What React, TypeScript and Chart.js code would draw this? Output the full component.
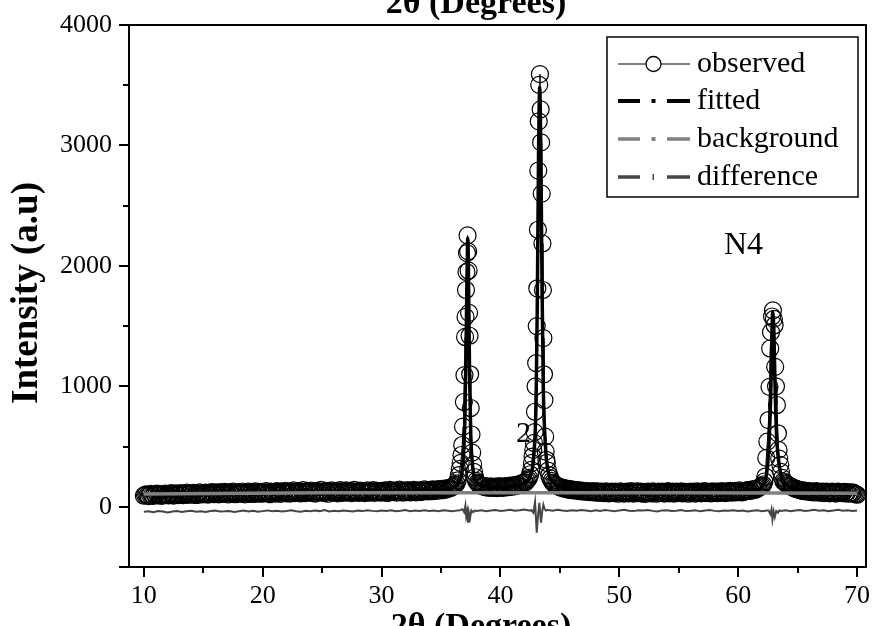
import React, { useEffect, useRef } from "react";
import { Chart, registerables } from "chart.js";

Chart.register(...registerables);

// ---- axes ----
const X_MIN = 8.75;
const X_MAX = 70.75;
const Y_MIN = -500;
const Y_MAX = 4000;
const xTicks = [10, 20, 30, 40, 50, 60, 70];
const xMinorTicks = [15, 25, 35, 45, 55, 65];
const yTicks = [-500, 0, 1000, 2000, 3000, 4000];
const yMinorTicks = [500, 1500, 2500, 3500];

const topTitle = "2θ (Degrees)";
const bottomTitle = "2θ (Degrees)";
const yTitle = "Intensity (a.u)";
const sampleLabel = "N4";
const peakLabel = "2";
const legendLabels = ["observed", "fitted", "background", "difference"];

// ---- observed (baseline segments: start, step 0.1) ----
const OBS_STEP = 0.1;
const obsA_start = 10.0;
const obsA = [
  92, 99, 104, 96, 88, 101, 107, 95, 90, 103,
  98, 109, 94, 100, 106, 91, 97, 104, 110, 96,
  102, 95, 108, 113, 99, 93, 105, 111, 100, 97,
  107, 114, 101, 96, 110, 104, 117, 99, 106, 112,
  100, 108, 115, 103, 98, 111, 106, 119, 102, 109,
  113, 104, 118, 110, 101, 116, 107, 122, 112, 105,
  119, 108, 114, 103, 121, 111, 106, 117, 124, 109,
  115, 102, 120, 112, 107, 125, 113, 104, 118, 110,
  122, 114, 108, 127, 116, 103, 119, 112, 125, 107,
  117, 123, 110, 106, 128, 115, 120, 109, 124, 113,
  108, 121, 116, 130, 112, 118, 105, 126, 119, 114,
  124, 110, 131, 117, 122, 107, 128, 115, 120, 133,
  112, 125, 118, 109, 129, 121, 136, 114, 123, 116,
  130, 119, 111, 127, 138, 120, 113, 125, 132, 117,
  122, 135, 116, 128, 110, 124, 131, 118, 126, 140,
  119, 127, 114, 133, 121, 108, 129, 123, 136, 117,
  125, 131, 120, 112, 128, 139, 122, 115, 130, 124,
  137, 118, 126, 132, 121, 114, 129, 141, 123, 119,
  128, 116, 134, 125, 120, 131, 113, 127, 136, 122,
  118, 130, 124, 139, 115, 126, 133, 121, 129, 117,
  132, 125, 119, 137, 128, 114, 130, 140, 123, 127,
  121, 134, 126, 117, 131, 143, 124, 129, 118, 135,
  127, 122, 138, 130, 119, 133, 125, 141, 128, 120,
  134, 129, 123, 139, 131, 126, 144, 132, 137, 128,
  133, 140, 129, 145, 136, 131, 142, 138, 147, 135,
  141, 149, 138, 146, 153, 144, 151, 158, 155, 163,
  168, 174, 182,
];
const peak1X = [36.3, 36.4, 36.5, 36.58, 36.65, 36.72, 36.78, 36.85, 36.92, 36.97, 37.02, 37.06, 37.1, 37.14, 37.18, 37.23, 37.28, 37.32, 37.36, 37.4, 37.45, 37.5, 37.56, 37.62, 37.7, 37.78, 37.86, 37.95, 38.05, 38.12];
const peak1Y = [195, 220, 262, 315, 364, 430, 513, 665, 870, 1093, 1410, 1576, 1800, 1949, 2106, 2253, 2120, 1960, 1610, 1420, 1100, 820, 600, 450, 350, 290, 245, 215, 200, 192];
const obsB_start = 38.2;
const obsB = [
  186, 179, 174, 170, 165, 172, 161, 167, 158, 163,
  170, 156, 164, 160, 168, 155, 162, 171, 159, 166,
  157, 165, 172, 161, 169, 163, 175, 166, 171, 178,
  170, 182, 176, 185, 180, 192, 188, 197, 205, 201,
  215, 226, 240,
];
const peak2X = [42.5, 42.58, 42.65, 42.7, 42.76, 42.82, 42.87, 42.9, 42.95, 43.0, 43.05, 43.1, 43.15, 43.18, 43.22, 43.26, 43.32, 43.38, 43.42, 43.47, 43.53, 43.57, 43.61, 43.66, 43.7, 43.76, 43.8, 43.86, 43.9, 44.0, 44.1, 44.2, 44.3, 44.4, 44.5];
const peak2Y = [270, 306, 364, 417, 472, 530, 620, 789, 1000, 1193, 1500, 1814, 2300, 2791, 3200, 3503, 3592, 3300, 3025, 2600, 2186, 1800, 1400, 1100, 886, 582, 458, 390, 364, 300, 262, 235, 215, 200, 190];
const obsC_start = 44.6;
const obsC = [
  182, 177, 171, 168, 163, 158, 160, 154, 150, 152,
  147, 143, 146, 140, 144, 137, 141, 135, 138, 133,
  136, 130, 134, 128, 132, 126, 131, 124, 129, 122,
  127, 121, 130, 119, 125, 117, 128, 122, 115, 126,
  120, 113, 124, 129, 118, 111, 123, 116, 127, 119,
  114, 125, 121, 108, 119, 128, 115, 122, 110, 124,
  118, 126, 112, 120, 131, 116, 109, 123, 117, 128,
  113, 121, 127, 110, 118, 124, 107, 119, 126, 115,
  122, 111, 129, 117, 123, 108, 120, 126, 114, 119,
  127, 116, 110, 124, 118, 130, 112, 121, 115, 125,
  109, 120, 126, 114, 122, 117, 128, 111, 119, 124,
  116, 123, 108, 121, 127, 113, 118, 125, 110, 122,
  128, 115, 120, 112, 126, 119, 131, 114, 122, 117,
  124, 111, 129, 118, 121, 127, 113, 125, 120, 116,
  130, 119, 123, 114, 128, 121, 117, 132, 124, 118,
  126, 133, 120, 129, 122, 136, 125, 119, 131, 127,
  135, 128, 138, 131, 141, 134, 144, 139, 147, 142,
  151, 156, 161, 168, 176,
];
const peak3X = [62.1, 62.2, 62.28, 62.36, 62.45, 62.55, 62.63, 62.69, 62.76, 62.85, 62.92, 63.0, 63.06, 63.11, 63.18, 63.26, 63.34, 63.39, 63.45, 63.54, 63.6, 63.7];
const peak3Y = [185, 210, 250, 406, 541, 720, 996, 1314, 1450, 1580, 1631, 1560, 1507, 1162, 1000, 845, 610, 472, 400, 348, 290, 240];
const obsD_start = 63.8;
const obsD = [
  212, 203, 195, 188, 181, 176, 170, 165, 160, 156,
  151, 148, 144, 141, 138, 135, 132, 136, 129, 133,
  127, 130, 124, 128, 121, 126, 119, 125, 130, 122,
  117, 124, 120, 127, 114, 121, 126, 118, 123, 112,
  119, 125, 116, 122, 110, 120, 126, 115, 121, 113,
  118, 124, 111, 117, 122, 108, 115, 120, 112, 117,
  109, 104, 100,
];

// ---- fitted ----
const fitX = [10, 15, 20, 25, 30, 33, 35, 36, 36.5, 36.8, 37.0, 37.1, 37.2, 37.25, 37.3, 37.4, 37.5, 37.7, 38, 39, 40, 41, 42, 42.5, 42.8, 43.0, 43.1, 43.2, 43.3, 43.4, 43.5, 43.6, 43.8, 44.0, 44.5, 45, 46, 48, 50, 55, 60, 61.5, 62.2, 62.5, 62.7, 62.8, 62.9, 63.0, 63.1, 63.2, 63.4, 63.7, 64.2, 65, 67, 70];
const fitY = [100, 110, 115, 120, 124, 130, 140, 160, 210, 320, 700, 1300, 2000, 2230, 2000, 1100, 600, 300, 200, 165, 160, 170, 200, 260, 420, 900, 1700, 2900, 3480, 2900, 1800, 1000, 480, 300, 200, 165, 145, 125, 120, 118, 122, 140, 200, 380, 800, 1200, 1620, 1450, 1000, 650, 380, 230, 170, 140, 125, 115];

// ---- background ----
const bgX = [10, 25, 40, 55, 70];
const bgY = [106, 116, 117, 116, 113];

// ---- difference (segments: start, step 0.4) ----
const DIFF_STEP = 0.4;
const diffA_start = 10.0;
const diffA = [
  -42, -38, -45, -36, -40, -47, -39, -35, -43, -38,
  -33, -41, -37, -44, -36, -32, -40, -38, -35, -43,
  -37, -31, -39, -34, -42, -36, -30, -38, -33, -40,
  -35, -29, -37, -41, -34, -38, -31, -36, -27, -39,
  -33, -37, -30, -35, -40, -32, -36, -28, -34, -38,
  -31, -35, -29, -37, -33, -26, -36, -30, -34, -28,
  -35, -31, -37, -29, -33, -38, -30,
];
const diffP1X = [36.6, 36.8, 36.95, 37.05, 37.12, 37.2, 37.27, 37.35, 37.45, 37.55, 37.7, 37.85];
const diffP1Y = [-28, -20, -45, 10, -80, -40, -125, -50, -90, -30, -45, -32];
const diffB_start = 38.0;
const diffB = [-34, -29, -37, -31, -26, -35, -30, -24, -33, -28, -22, -30];
const diffP2X = [42.6, 42.77, 42.91, 43.05, 43.17, 43.27, 43.41, 43.52, 43.61, 43.72, 43.84, 43.95];
const diffP2Y = [-28, -50, 40, -215, -60, 33, -132, -30, 17, -20, -33, -25];
const diffC_start = 44.0;
const diffC = [
  -27, -32, -24, -30, -35, -28, -33, -26, -31, -37,
  -29, -34, -27, -32, -38, -30, -25, -33, -36, -29,
  -31, -26, -34, -39, -30, -28, -35, -32, -27, -36,
  -33, -29, -38, -31, -26, -34, -37, -30, -32, -28,
  -35, -31, -39, -33, -29, -36, -30,
];
const diffP3X = [62.55, 62.7, 62.8, 62.88, 62.98, 63.08, 63.2, 63.35, 63.45];
const diffP3Y = [-30, -60, -20, -105, -40, -85, -35, -48, -30];
const diffD_start = 63.6;
const diffD = [-34, -29, -37, -31, -26, -35, -30, -24, -33, -28, -36, -31, -25, -33, -29, -35, -30];

type P = { x: number; y: number };
const seg = (start: number, step: number, vals: number[]): P[] =>
  vals.map((v, i) => ({ x: +(start + i * step).toFixed(2), y: v }));
const zip = (xs: number[], ys: number[]): P[] => xs.map((x, i) => ({ x, y: ys[i] }));

const observedData: P[] = [
  ...seg(obsA_start, OBS_STEP, obsA),
  ...zip(peak1X, peak1Y),
  ...seg(obsB_start, OBS_STEP, obsB),
  ...zip(peak2X, peak2Y),
  ...seg(obsC_start, OBS_STEP, obsC),
  ...zip(peak3X, peak3Y),
  ...seg(obsD_start, OBS_STEP, obsD),
];
const fittedData = zip(fitX, fitY);
const backgroundData = zip(bgX, bgY);
const differenceData: P[] = [
  ...seg(diffA_start, DIFF_STEP, diffA),
  ...zip(diffP1X, diffP1Y),
  ...seg(diffB_start, DIFF_STEP, diffB),
  ...zip(diffP2X, diffP2Y),
  ...seg(diffC_start, DIFF_STEP, diffC),
  ...zip(diffP3X, diffP3Y),
  ...seg(diffD_start, DIFF_STEP, diffD),
];

const SERIF = "'Liberation Serif', 'Times New Roman', serif";
const GRAY = "#808080";
const DARK = "#454545";

const decor = {
  id: "decor",
  afterDraw(chart: any) {
    const { ctx, chartArea: a, scales } = chart;
    const x = scales.x;
    const y = scales.y;
    ctx.save();
    ctx.strokeStyle = "#000";
    ctx.lineWidth = 2;
    ctx.beginPath();
    ctx.moveTo(a.left - 1, a.top);
    ctx.lineTo(a.right, a.top);
    ctx.lineTo(a.right, a.bottom + 1);
    ctx.stroke();
    ctx.beginPath();
    xMinorTicks.forEach((v) => {
      const px = Math.round(x.getPixelForValue(v));
      ctx.moveTo(px, a.bottom);
      ctx.lineTo(px, a.bottom + 6);
    });
    yMinorTicks.forEach((v) => {
      const py = Math.round(y.getPixelForValue(v));
      ctx.moveTo(a.left, py);
      ctx.lineTo(a.left - 6, py);
    });
    ctx.stroke();

    // titles
    ctx.fillStyle = "#000";
    ctx.font = `bold 34px ${SERIF}`;
    ctx.textAlign = "center";
    ctx.textBaseline = "alphabetic";
    ctx.fillText(topTitle, 476, 13);
    ctx.fillText(bottomTitle, 481, 636);
    ctx.save();
    ctx.font = `bold 37px ${SERIF}`;
    ctx.translate(37, 293);
    ctx.rotate(-Math.PI / 2);
    ctx.fillText(yTitle, 0, 0);
    ctx.restore();

    // labels
    ctx.font = `32px ${SERIF}`;
    ctx.textAlign = "left";
    ctx.fillText(sampleLabel, 724, 254);
    ctx.font = `30px ${SERIF}`;
    ctx.fillText(peakLabel, 516, 442);

    // legend
    const lx = 607, ly = 37, lw = 251, lh = 160;
    ctx.lineWidth = 1.5;
    ctx.strokeStyle = "#000";
    ctx.strokeRect(lx, ly, lw, lh);
    const rows = [64, 101, 139, 177];
    ctx.font = `30px ${SERIF}`;
    ctx.textBaseline = "alphabetic";
    legendLabels.forEach((lab, i) => {
      const ry = rows[i];
      if (i === 0) {
        ctx.strokeStyle = "#000";
        ctx.lineWidth = 1;
        ctx.beginPath();
        ctx.moveTo(618, ry); ctx.lineTo(646, ry);
        ctx.moveTo(661, ry); ctx.lineTo(690, ry);
        ctx.stroke();
        ctx.beginPath();
        ctx.lineWidth = 1.3;
        ctx.arc(653.5, ry, 7.5, 0, Math.PI * 2);
        ctx.stroke();
      } else {
        const col = i === 1 ? "#000" : i === 2 ? GRAY : DARK;
        ctx.strokeStyle = col;
        ctx.fillStyle = col;
        ctx.lineWidth = i === 1 ? 4 : 3.5;
        ctx.beginPath();
        ctx.moveTo(618, ry); ctx.lineTo(640, ry);
        ctx.moveTo(667, ry); ctx.lineTo(690, ry);
        ctx.stroke();
        if (i === 3) ctx.fillRect(652.5, ry - 3, 1.5, 6);
        else ctx.fillRect(651.5, ry - 2, 4, 4);
      }
      ctx.fillStyle = "#000";
      ctx.fillText(lab, 697, ry + 8);
    });
    ctx.restore();
  },
};

export default function App() {
  const ref = useRef<HTMLCanvasElement>(null);
  useEffect(() => {
    const chart = new Chart(ref.current as HTMLCanvasElement, {
      type: "line",
      data: {
        datasets: [
          {
            label: "background",
            data: backgroundData,
            borderColor: GRAY,
            borderWidth: 3.5,
            pointRadius: 0,
            order: 0,
          },
          {
            label: "fitted",
            data: fittedData,
            borderColor: "#000",
            borderWidth: 3.5,
            pointRadius: 0,
            cubicInterpolationMode: "monotone",
            order: 1,
          },
          {
            label: "difference",
            data: differenceData,
            borderColor: DARK,
            borderWidth: 2,
            pointRadius: 0,
            order: 2,
          },
          {
            label: "observed",
            data: observedData,
            borderColor: "#000",
            borderWidth: 1,
            pointRadius: 8.5,
            pointBorderWidth: 1.2,
            pointBorderColor: "#000",
            pointBackgroundColor: "rgba(0,0,0,0)",
            order: 3,
          },
        ],
      } as any,
      options: {
        responsive: false,
        animation: false,
        devicePixelRatio: 1,
        layout: { padding: { left: 0, right: 10, top: 25, bottom: 0 } },
        plugins: { legend: { display: false }, tooltip: { enabled: false } },
        scales: {
          x: {
            type: "linear",
            min: X_MIN,
            max: X_MAX,
            afterBuildTicks: (s: any) => {
              s.ticks = xTicks.map((v) => ({ value: v }));
            },
            afterFit: (s: any) => {
              s.height = 59;
            },
            grid: {
              display: true,
              drawOnChartArea: false,
              drawTicks: true,
              tickLength: 10,
              color: "#000",
              lineWidth: 2,
            },
            border: { display: true, color: "#000", width: 2 },
            ticks: {
              autoSkip: false,
              maxRotation: 0,
              padding: 4,
              color: "#000",
              font: { family: SERIF, size: 26 },
              callback: (v: any) => String(v),
            },
          },
          y: {
            type: "linear",
            min: Y_MIN,
            max: Y_MAX,
            afterBuildTicks: (s: any) => {
              s.ticks = yTicks.map((v) => ({ value: v }));
            },
            afterFit: (s: any) => {
              s.width = 129;
            },
            grid: {
              display: true,
              drawOnChartArea: false,
              drawTicks: true,
              tickLength: 10,
              color: "#000",
              lineWidth: 2,
            },
            border: { display: true, color: "#000", width: 2 },
            ticks: {
              autoSkip: false,
              padding: 7,
              color: "#000",
              font: { family: SERIF, size: 26 },
              callback: (v: any) => (v === -500 ? "" : String(v)),
            },
          },
        },
      } as any,
      plugins: [decor],
    });
    return () => chart.destroy();
  }, []);
  return (
    <div style={{ position: "absolute", left: 0, top: 0, width: 876, height: 626, background: "#fff" }}>
      <canvas ref={ref} width={876} height={626} style={{ display: "block", width: 876, height: 626 }} />
    </div>
  );
}
